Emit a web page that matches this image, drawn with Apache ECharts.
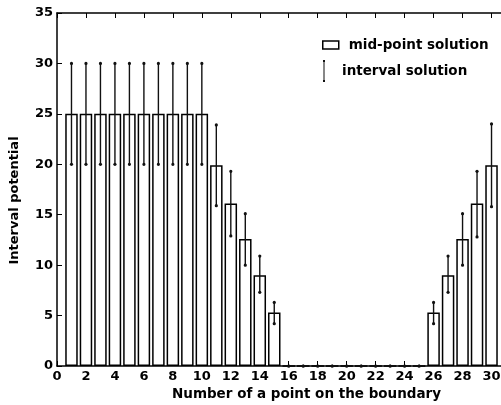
<!DOCTYPE html>
<html>
<head>
<meta charset="utf-8">
<script src="https://cdn.jsdelivr.net/npm/echarts@6/dist/echarts.min.js"></script>
<style>
  html, body { margin: 0; padding: 0; background: #fff; }
  #chart { width: 501px; height: 405px; }
</style>
</head>
<body>
<div id="chart"></div>
<script>
// Boundary point numbers
var points = [1,2,3,4,5,6,7,8,9,10,11,12,13,14,15,16,17,18,19,20,21,22,23,24,25,26,27,28,29,30];
// Mid-point solution of the potential
var midValues = [25,25,25,25,25,25,25,25,25,25,19.9,16.1,12.6,9.0,5.3,0,0,0,0,0,0,0,0,0,0,5.3,9.0,12.6,16.1,19.9];
// Lower and upper bounds of the interval solution
var lowerValues = [20,20,20,20,20,20,20,20,20,20,15.9,12.9,10.0,7.3,4.2,0,0,0,0,0,0,0,0,0,0,4.2,7.3,10.0,12.8,15.8];
var upperValues = [30,30,30,30,30,30,30,30,30,30,23.9,19.3,15.1,10.9,6.3,0,0,0,0,0,0,0,0,0,0,6.3,10.9,15.1,19.3,24.0];

var FONT = 'DejaVu Sans';
var INK = '#000';

var barData = points.map(function (p, i) { return [p, midValues[i]]; });
var intervalData = points.map(function (p, i) { return [p, lowerValues[i], upperValues[i]]; });

function renderInterval(params, api) {
  var x = api.value(0);
  var lo = api.coord([x, api.value(1)]);
  var hi = api.coord([x, api.value(2)]);
  var style = { stroke: '#111', lineWidth: 1.4 };
  return {
    type: 'group',
    children: [
      { type: 'line', shape: { x1: lo[0], y1: lo[1], x2: hi[0], y2: hi[1] }, style: style },
      { type: 'circle', shape: { cx: hi[0], cy: hi[1], r: 1.6 }, style: { fill: '#111' } },
      { type: 'circle', shape: { cx: lo[0], cy: lo[1], r: 1.6 }, style: { fill: '#111' } }
    ]
  };
}

var labelStyle = { color: INK, fontFamily: FONT, fontWeight: 'bold', fontSize: 13 };
var legendText = { color: INK, fontFamily: FONT, fontWeight: 'bold', fontSize: 13.5, padding: [0, 0, 0, 5] };

var chart = echarts.init(document.getElementById('chart'), null, { renderer: 'canvas' });
chart.setOption({
  animation: false,
  backgroundColor: '#fff',
  // the frame runs a little past the right edge of the canvas
  grid: { left: 57, top: 13, width: 449, height: 353, outerBoundsMode: 'none', containLabel: false },
  legend: [
    {
      left: 317, top: 33, itemWidth: 16, itemHeight: 8,
      selectedMode: false,
      textStyle: legendText,
      data: [{ name: 'mid-point solution', icon: 'rect',
               itemStyle: { color: '#fff', borderColor: INK, borderWidth: 1.5 } }]
    },
    {
      left: 318, top: 55, itemWidth: 16, itemHeight: 22,
      selectedMode: false,
      textStyle: legendText,
      data: [{ name: 'interval solution',
               icon: 'path://M0.5,0 h2 v2 h-0.5 v18 h0.5 v2 h-2 v-2 h0.5 v-18 h-0.5 Z',
               itemStyle: { color: '#111', borderWidth: 0 } }]
    }
  ],
  xAxis: [
    {
      type: 'value', min: 0, max: 31, interval: 2,
      name: 'Number of a point on the boundary',
      nameLocation: 'middle', nameGap: 19,
      nameTextStyle: { color: INK, fontFamily: FONT, fontWeight: 'bold', fontSize: 13.5, padding: [0, 0, 0, 50] },
      axisLine: { onZero: false, lineStyle: { color: INK, width: 1.5 } },
      axisTick: { inside: true, length: 5, lineStyle: { color: INK } },
      axisLabel: Object.assign({ margin: 4, showMaxLabel: false }, labelStyle),
      splitLine: { show: false }
    },
    {
      type: 'value', min: 0, max: 31, interval: 2, position: 'top',
      axisLine: { onZero: false, lineStyle: { color: INK, width: 1.5 } },
      axisTick: { inside: true, length: 5, lineStyle: { color: INK } },
      axisLabel: { show: false },
      splitLine: { show: false }
    }
  ],
  yAxis: [
    {
      type: 'value', min: 0, max: 35, interval: 5,
      name: 'Interval potential',
      nameLocation: 'middle', nameGap: 36, nameRotate: 90,
      nameTextStyle: { color: INK, fontFamily: FONT, fontWeight: 'bold', fontSize: 13, padding: [0, 22, 0, 0] },
      axisLine: { onZero: false, lineStyle: { color: INK, width: 1.5 } },
      axisTick: { inside: true, length: 5, lineStyle: { color: INK } },
      axisLabel: Object.assign({ margin: 4 }, labelStyle),
      splitLine: { show: false }
    },
    {
      type: 'value', min: 0, max: 35, interval: 5, position: 'right',
      axisLine: { onZero: false, lineStyle: { color: INK, width: 1.5 } },
      axisTick: { inside: true, length: 5, lineStyle: { color: INK } },
      axisLabel: { show: false },
      splitLine: { show: false }
    }
  ],
  series: [
    {
      name: 'mid-point solution',
      type: 'bar',
      xAxisIndex: 0, yAxisIndex: 0,
      barWidth: 12.5,
      itemStyle: { color: '#fff', borderColor: INK, borderWidth: 1.5 },
      data: barData
    },
    {
      name: 'interval solution',
      type: 'custom',
      xAxisIndex: 0, yAxisIndex: 0,
      itemStyle: { color: '#111' },
      renderItem: renderInterval,
      encode: { x: 0, y: [1, 2] },
      data: intervalData,
      z: 3
    }
  ]
});
</script>
</body>
</html>
